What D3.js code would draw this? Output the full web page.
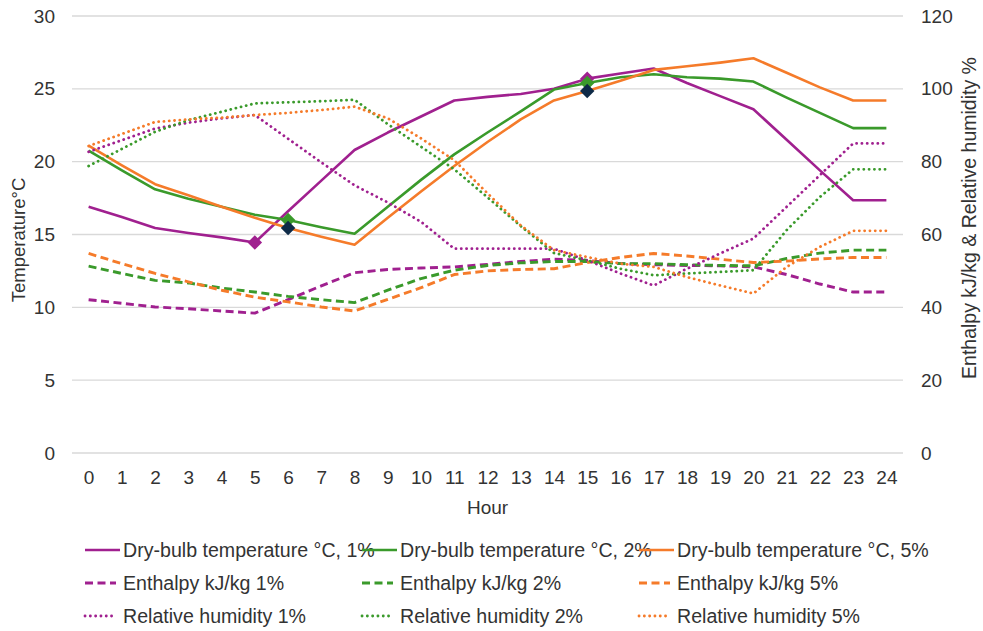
<!DOCTYPE html>
<html><head><meta charset="utf-8">
<script src="https://cdn.jsdelivr.net/npm/d3@7"></script>
<style>
body{margin:0;background:#fff}
svg text{font-family:"Liberation Sans",Arial,sans-serif;fill:#333}
</style>
</head><body>
<svg id="chart" width="983" height="631"></svg>
<script>
const hours = [0,1,2,3,4,5,6,7,8,9,10,11,12,13,14,15,16,17,18,19,20,21,22,23,24];
const leftTicks = [0,5,10,15,20,25,30];
const rightTicks = [0,20,40,60,80,100,120];

const dbt1 = [16.9,16.2,15.45,15.1,14.8,14.45,16.6,18.7,20.8,22.0,23.1,24.2,24.45,24.65,25.0,25.7,26.05,26.4,25.4,24.5,23.6,21.5,19.4,17.35,17.35];
const dbt2 = [20.75,19.4,18.1,17.45,16.9,16.35,16.0,15.5,15.05,16.9,18.75,20.5,22.0,23.45,24.95,25.4,25.8,26.0,25.8,25.7,25.5,24.4,23.35,22.3,22.3];
const dbt5 = [21.1,19.75,18.45,17.7,16.9,16.15,15.45,14.85,14.3,16.15,17.95,19.7,21.35,22.9,24.2,24.85,25.55,26.3,26.55,26.8,27.1,26.1,25.1,24.2,24.2];
const enth1 = [42.1,41.1,40.1,39.6,39.0,38.4,42.1,45.9,49.5,50.4,50.8,51.1,51.8,52.6,53.2,52.9,52.0,51.7,51.5,51.4,51.1,49.0,46.4,44.2,44.2];
const enth2 = [51.3,49.3,47.4,46.7,45.3,44.2,43.0,42.1,41.3,44.7,47.9,50.2,51.5,52.2,52.6,52.6,52.0,52.0,51.7,51.5,51.4,53.4,54.9,55.7,55.7];
const enth5 = [54.8,52.0,49.3,47.0,44.7,42.8,41.5,40.1,39.0,42.2,45.4,49.0,50.0,50.4,50.6,52.3,53.7,54.8,54.1,53.2,52.3,52.7,53.3,53.7,53.7];
const rh1 = [82.7,85.9,89.1,90.7,91.9,92.8,86.3,79.8,73.5,68.8,63.5,56.1,56.1,56.1,56.1,52.9,49.3,46.0,50.6,54.8,58.9,67.6,76.3,85.0,85.0];
const rh2 = [78.8,83.5,88.2,91.4,93.7,96.0,96.3,96.6,97.0,90.3,84.1,77.9,70.2,62.3,54.9,52.9,50.6,48.8,49.3,49.7,50.2,61.2,70.3,77.9,77.9];
const rh5 = [84.3,87.6,90.9,91.6,92.1,92.8,93.4,94.2,95.1,91.9,86.4,80.4,71.3,62.5,55.7,53.8,52.0,51.1,48.3,46.0,43.8,51.1,56.6,61.0,61.0];

const seriesNames = [
  "Dry-bulb temperature °C, 1%","Dry-bulb temperature °C, 2%","Dry-bulb temperature °C, 5%",
  "Enthalpy kJ/kg 1%","Enthalpy kJ/kg 2%","Enthalpy kJ/kg 5%",
  "Relative humidity 1%","Relative humidity 2%","Relative humidity 5%"
];
const seriesValues = [dbt1,dbt2,dbt5,enth1,enth2,enth5,rh1,rh2,rh5];
const seriesAxis = ["left","left","left","right","right","right","right","right","right"];
const seriesColor = ["#A0208F","#3A9A2B","#F57B2A","#A0208F","#3A9A2B","#F57B2A","#A0208F","#3A9A2B","#F57B2A"];
const seriesStyle = ["solid","solid","solid","dash","dash","dash","dot","dot","dot"];

// highlighted points: series index, hour, marker colour
const markerSeries = [0,0,1,1,2,2];
const markerHours = [5,15,6,15,6,15];
const markerColors = ["#A0208F","#A0208F","#3A9A2B","#3A9A2B","#0E2A47","#0E2A47"];

const svg = d3.select("#chart");
const L = 72, R = 903, T = 16, B = 453;
const x = d3.scalePoint().domain(hours).range([L, R]).padding(0.5);
const yL = d3.scaleLinear().domain([0,30]).range([B, T]);
const yR = d3.scaleLinear().domain([0,120]).range([B, T]);

svg.append("g").selectAll("line").data(leftTicks).join("line")
  .attr("x1", L).attr("x2", R)
  .attr("y1", d => yL(d)).attr("y2", d => yL(d))
  .attr("stroke", "#d9d9d9").attr("stroke-width", 1.3);

const fs = "19px";
const gL = svg.append("g").attr("transform", `translate(${L},0)`)
  .call(d3.axisLeft(yL).tickValues(leftTicks).tickSize(0).tickPadding(17));
const gR = svg.append("g").attr("transform", `translate(${R},0)`)
  .call(d3.axisRight(yR).tickValues(rightTicks).tickSize(0).tickPadding(18));
const gB = svg.append("g").attr("transform", `translate(0,${B})`)
  .call(d3.axisBottom(x).tickValues(hours).tickSize(0).tickPadding(18));
[gL,gR,gB].forEach(g => {
  g.select(".domain").remove();
  g.selectAll("text").style("font-size", fs).attr("fill", "#333").style("font-family", "'Liberation Sans',Arial,sans-serif");
});

svg.append("text").attr("x", (L+R)/2).attr("y", 514).attr("text-anchor", "middle")
  .style("font-size", fs).text("Hour");
svg.append("text").attr("transform", "translate(25,240) rotate(-90)").attr("text-anchor", "middle")
  .style("font-size", "18.5px").text("Temperature°C");
svg.append("text").attr("transform", "translate(976,218) rotate(-90)").attr("text-anchor", "middle")
  .style("font-size", "19.5px").text("Enthalpy kJ/kg & Relative humidity %");

function styleLine(sel, i) {
  sel.attr("fill", "none").attr("stroke", seriesColor[i]);
  if (seriesStyle[i] === "solid") sel.attr("stroke-width", 2.6);
  else if (seriesStyle[i] === "dash") sel.attr("stroke-width", 2.9).attr("stroke-dasharray", "8,4.5");
  else sel.attr("stroke-width", 2.8).attr("stroke-dasharray", "0.1,5.2").attr("stroke-linecap", "round");
  return sel;
}

seriesValues.forEach((vals, i) => {
  const ys = seriesAxis[i] === "left" ? yL : yR;
  const line = d3.line().x((d, j) => x(hours[j])).y(d => ys(d));
  styleLine(svg.append("path").datum(vals).attr("d", line).attr("stroke-linejoin", "round"), i);
});

const diamond = d3.symbol().type(d3.symbolSquare).size(105);
markerSeries.forEach((s, k) => {
  const h = markerHours[k];
  const v = seriesValues[s][hours.indexOf(h)];
  svg.append("path").attr("d", diamond())
    .attr("transform", `translate(${x(h)},${yL(v)}) rotate(45)`)
    .attr("fill", markerColors[k]);
});

const legCols = [85, 362, 639];
const legRows = [550, 583, 616];
seriesNames.forEach((name, i) => {
  const c = i % 3, r = Math.floor(i / 3);
  const lx = legCols[c], ly = legRows[r];
  const len = seriesStyle[i] === "solid" ? 35 : 31;
  styleLine(svg.append("line").attr("x1", lx).attr("x2", lx + len).attr("y1", ly).attr("y2", ly), i);
  svg.append("text").attr("x", lx + 38).attr("y", ly).attr("dy", "0.35em")
    .style("font-size", "19.6px").text(name);
});
</script>
</body></html>
